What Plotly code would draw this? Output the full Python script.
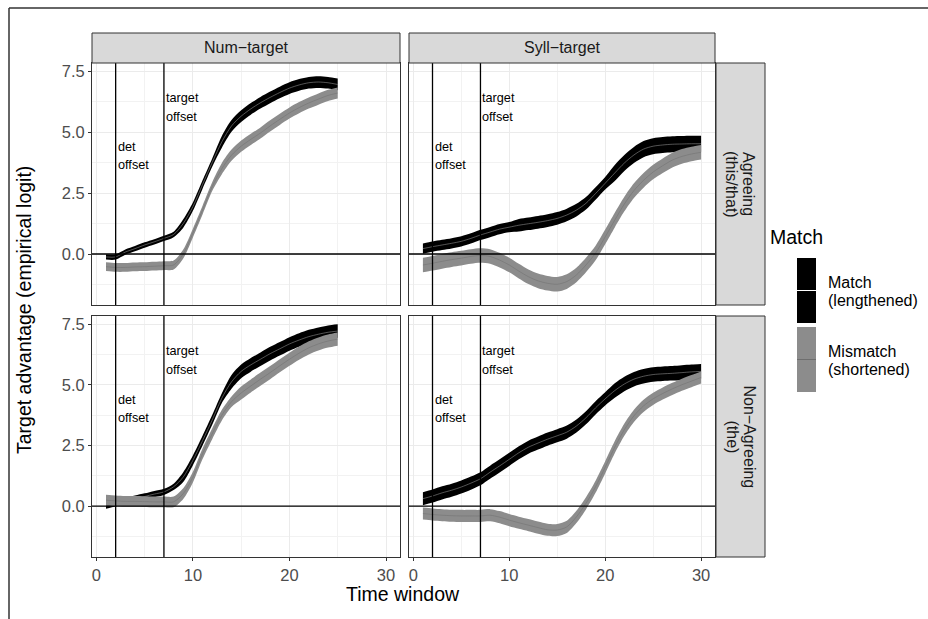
import plotly.graph_objects as go

# ---------------- data ----------------
x_num = list(range(1, 26))
x_syll = list(range(1, 31))

# Num-target, Agreeing
num_agr_match = [-0.12, -0.12, 0.08, 0.22, 0.37, 0.5, 0.64, 0.8, 1.25, 1.94, 2.85, 3.75, 4.6, 5.25,
                 5.65, 5.95, 6.2, 6.42, 6.62, 6.8, 6.93, 7.02, 7.05, 7.02, 6.95]
num_agr_match_hw = [0.11] * 8 + [0.17] * 4 + [0.24] * 13
num_agr_mism = [-0.52, -0.55, -0.55, -0.53, -0.52, -0.5, -0.48, -0.45, 0.0, 0.86, 1.8, 2.76, 3.5, 4.05,
                4.42, 4.7, 4.96, 5.25, 5.52, 5.78, 6.0, 6.19, 6.35, 6.5, 6.6]
num_agr_mism_hw = [0.18] * 12 + [0.23] * 13

# Syll-target, Agreeing
syll_agr_match = [0.22, 0.3, 0.37, 0.44, 0.52, 0.64, 0.78, 0.9, 1.02, 1.1, 1.18, 1.24, 1.3, 1.37, 1.46,
                  1.6, 1.8, 2.08, 2.48, 2.9, 3.32, 3.73, 4.06, 4.3, 4.42, 4.47, 4.5, 4.51, 4.52, 4.52]
syll_agr_match_hw = [0.21] * 10 + [0.26] * 10 + [0.33] * 10
syll_agr_mism = [-0.45, -0.38, -0.3, -0.23, -0.17, -0.1, -0.06, -0.1, -0.25, -0.45, -0.7, -0.93, -1.1,
                 -1.2, -1.24, -1.13, -0.86, -0.45, 0.04, 0.7, 1.39, 2.05, 2.6, 3.02, 3.36, 3.62, 3.85,
                 4.0, 4.1, 4.17]
syll_agr_mism_hw = [0.3] * 30

# Num-target, Non-Agreeing
num_non_match = [0.03, 0.12, 0.22, 0.31, 0.4, 0.5, 0.59, 0.8, 1.2, 1.89, 2.7, 3.55, 4.45, 5.12, 5.55,
                 5.82, 6.05, 6.28, 6.48, 6.68, 6.84, 6.98, 7.08, 7.16, 7.21]
num_non_match_hw = [0.13] * 8 + [0.2] * 5 + [0.28] * 12
num_non_mism = [0.25, 0.22, 0.2, 0.2, 0.19, 0.18, 0.18, 0.18, 0.52, 1.2, 2.16, 2.98, 3.75, 4.3, 4.66,
                4.95, 5.23, 5.5, 5.78, 6.05, 6.3, 6.52, 6.68, 6.8, 6.88]
num_non_mism_hw = [0.22] * 14 + [0.27] * 11

# Syll-target, Non-Agreeing
syll_non_match = [0.31, 0.42, 0.55, 0.66, 0.79, 0.95, 1.13, 1.4, 1.66, 1.93, 2.2, 2.43, 2.6, 2.76, 2.9,
                  3.05, 3.3, 3.64, 4.05, 4.42, 4.76, 5.03, 5.23, 5.35, 5.42, 5.45, 5.47, 5.5, 5.53, 5.55]
syll_non_match_hw = [0.27] * 20 + [0.3] * 10
syll_non_mism = [-0.3, -0.34, -0.37, -0.39, -0.4, -0.4, -0.4, -0.37, -0.45, -0.57, -0.68, -0.78, -0.88,
                 -0.97, -0.98, -0.85, -0.44, 0.12, 0.8, 1.6, 2.43, 3.15, 3.72, 4.13, 4.42, 4.64, 4.83,
                 5.0, 5.15, 5.3]
syll_non_mism_hw = [0.25] * 30

col_labels = ["Num\u2212target", "Syll\u2212target"]
row_labels = [["Agreeing", "(this/that)"], ["Non\u2212Agreeing", "(the)"]]
legend_title = "Match"
legend_labels = [["Match", "(lengthened)"], ["Mismatch", "(shortened)"]]
det_offset = 2
target_offset = 7
x_ticks = [0, 10, 20, 30]
y_ticks = [0, 2.5, 5, 7.5]

# ---------------- layout helpers ----------------
W, H = 928, 619
def px(x): return x / W
def py(y): return 1 - y / H

FONT = "Liberation Sans, Arial, Helvetica, sans-serif"
MATCH_FILL = "#000000"
MISM_FILL = "#8c8c8c"
MATCH_LINE = "#a8a8a8"
MISM_LINE = "#6e6e6e"
TICK_SIZE = 16.5
STRIP_SIZE = 16
TITLE_SIZE = 19.5
LEG_SIZE = 16
NOTE_SIZE = 12.7

xdom = [(92, 400), (409, 715)]
ydom = [(63, 305), (316, 557)]

panels = [
    (0, 0, x_num, num_agr_match, num_agr_match_hw, num_agr_mism, num_agr_mism_hw),
    (0, 1, x_syll, syll_agr_match, syll_agr_match_hw, syll_agr_mism, syll_agr_mism_hw),
    (1, 0, x_num, num_non_match, num_non_match_hw, num_non_mism, num_non_mism_hw),
    (1, 1, x_syll, syll_non_match, syll_non_match_hw, syll_non_mism, syll_non_mism_hw),
]

fig = go.Figure()
layout = dict(
    width=W, height=H, margin=dict(l=0, r=0, t=0, b=0),
    paper_bgcolor="white", plot_bgcolor="white",
    font=dict(family=FONT, color="#1a1a1a"),
    showlegend=False,
)
shapes = []
annotations = []


def note(text, x, y, size, xref="paper", yref="paper", xanchor="center", yanchor="middle",
         angle=0, color="#1a1a1a", xshift=0):
    annotations.append(dict(text=text, x=x, y=y, xref=xref, yref=yref, xanchor=xanchor, yanchor=yanchor,
                            textangle=angle, showarrow=False, xshift=xshift,
                            font=dict(size=size, color=color, family=FONT)))


for i, (r, c, xs, m, mhw, s, shw) in enumerate(panels):
    n = i + 1
    xa = "x" if n == 1 else f"x{n}"
    ya = "y" if n == 1 else f"y{n}"
    xkey = "xaxis" if n == 1 else f"xaxis{n}"
    ykey = "yaxis" if n == 1 else f"yaxis{n}"
    x0, x1 = xdom[c]
    y0, y1 = ydom[r]
    bottom = (r == 1)
    left = (c == 0)
    layout[xkey] = dict(
        domain=[px(x0), px(x1)], anchor=ya, range=[-0.45, 31.45],
        tickmode="array", tickvals=x_ticks, ticktext=[str(v) for v in x_ticks],
        showticklabels=bottom, ticks="outside" if bottom else "", ticklen=3, tickwidth=1,
        tickcolor="#333333", tickfont=dict(size=TICK_SIZE, color="#4d4d4d", family=FONT),
        showgrid=True, gridcolor="#ebebeb", gridwidth=1.1,
        minor=dict(tickmode="array", tickvals=[5, 15, 25], showgrid=True, gridcolor="#f2f2f2", gridwidth=0.6, ticks=""),
        showline=True, mirror=True, linecolor="#333333", linewidth=1, zeroline=False,
    )
    layout[ykey] = dict(
        domain=[py(y1), py(y0)], anchor=xa, range=[-2.09, 7.83],
        tickmode="array", tickvals=y_ticks, ticktext=[f"{v:.1f}" for v in y_ticks],
        showticklabels=left, ticks="outside" if left else "", ticklen=3, tickwidth=1,
        tickcolor="#333333", tickfont=dict(size=TICK_SIZE, color="#4d4d4d", family=FONT),
        showgrid=True, gridcolor="#ebebeb", gridwidth=1.1,
        minor=dict(tickmode="array", tickvals=[-1.25, 1.25, 3.75, 6.25], showgrid=True, gridcolor="#f2f2f2", gridwidth=0.6, ticks=""),
        showline=True, mirror=True, linecolor="#333333", linewidth=1, zeroline=False,
    )
    # ribbons
    for mean, hw, fill, lc in [(m, mhw, MATCH_FILL, MATCH_LINE), (s, shw, MISM_FILL, MISM_LINE)]:
        lo = [a - b for a, b in zip(mean, hw)]
        hi = [a + b for a, b in zip(mean, hw)]
        fig.add_trace(go.Scatter(x=xs, y=lo, mode="lines", line=dict(width=0, shape="spline", smoothing=0.8),
                                 xaxis=xa, yaxis=ya, hoverinfo="skip"))
        fig.add_trace(go.Scatter(x=xs, y=hi, mode="lines", line=dict(width=0, shape="spline", smoothing=0.8),
                                 fill="tonexty", fillcolor=fill, xaxis=xa, yaxis=ya, hoverinfo="skip"))
        fig.add_trace(go.Scatter(x=xs, y=mean, mode="lines", line=dict(width=0.5, color=lc, shape="spline", smoothing=0.8),
                                 xaxis=xa, yaxis=ya))
    # reference lines
    for xv in (det_offset, target_offset):
        shapes.append(dict(type="line", xref=xa, yref=f"{ya} domain", x0=xv, x1=xv, y0=0, y1=1,
                           line=dict(color="black", width=1.3), layer="above"))
    shapes.append(dict(type="line", xref=f"{xa} domain", yref=ya, x0=0, x1=1, y0=0, y1=0,
                       line=dict(color="black", width=1.3), layer="above"))
    # labels
    for txt, xv, yv in [("det", det_offset, 4.39), ("offset", det_offset, 3.65),
                        ("target", target_offset, 6.39), ("offset", target_offset, 5.61)]:
        note(txt, xv, yv, NOTE_SIZE, xref=xa, yref=ya, xanchor="left", color="black", xshift=0)

# strips
for c, lab in enumerate(col_labels):
    x0, x1 = xdom[c]
    shapes.append(dict(type="rect", xref="paper", yref="paper", x0=px(x0), x1=px(x1), y0=py(63), y1=py(33),
                       fillcolor="#d9d9d9", line=dict(color="#333333", width=1)))
    note(lab, px((x0 + x1) / 2), py(48), STRIP_SIZE)
for r, (l1, l2) in enumerate(row_labels):
    y0, y1 = ydom[r]
    shapes.append(dict(type="rect", xref="paper", yref="paper", x0=px(716), x1=px(765), y0=py(y1), y1=py(y0),
                       fillcolor="#d9d9d9", line=dict(color="#333333", width=1)))
    note(l1, px(749), py((y0 + y1) / 2), STRIP_SIZE, angle=90)
    note(l2, px(732), py((y0 + y1) / 2), STRIP_SIZE, angle=90)

# axis titles
note("Time window", px(403), py(594), TITLE_SIZE, color="black")
note("Target advantage (empirical logit)", px(24), py(310), TITLE_SIZE, angle=-90, color="black")

# legend (manual)
note(legend_title, px(768), py(237), TITLE_SIZE, xanchor="left", color="black")
for k, ((l1, l2), fc, lc) in enumerate([(legend_labels[0], MATCH_FILL, "white"), (legend_labels[1], MISM_FILL, MISM_LINE)]):
    top = 258 + k * 69
    bot = top + 65
    mid = (top + bot) / 2
    shapes.append(dict(type="rect", xref="paper", yref="paper", x0=px(797), x1=px(816), y0=py(bot), y1=py(top),
                       fillcolor=fc, line=dict(width=0)))
    shapes.append(dict(type="line", xref="paper", yref="paper", x0=px(797), x1=px(816),
                       y0=py(mid), y1=py(mid), line=dict(color=lc, width=1)))
    note(l1, px(826), py(mid - 8.5), LEG_SIZE, xanchor="left", color="black")
    note(l2, px(826), py(mid + 9.5), LEG_SIZE, xanchor="left", color="black")

# outer frame (top and left edges)
shapes.append(dict(type="line", xref="paper", yref="paper", x0=px(9), x1=1, y0=py(8), y1=py(8),
                   line=dict(color="#333333", width=1.5)))
shapes.append(dict(type="line", xref="paper", yref="paper", x0=px(9), x1=px(9), y0=py(8), y1=0,
                   line=dict(color="#333333", width=1.5)))

layout["shapes"] = shapes
layout["annotations"] = annotations
fig.update_layout(**layout)
fig.write_html("out.html")
